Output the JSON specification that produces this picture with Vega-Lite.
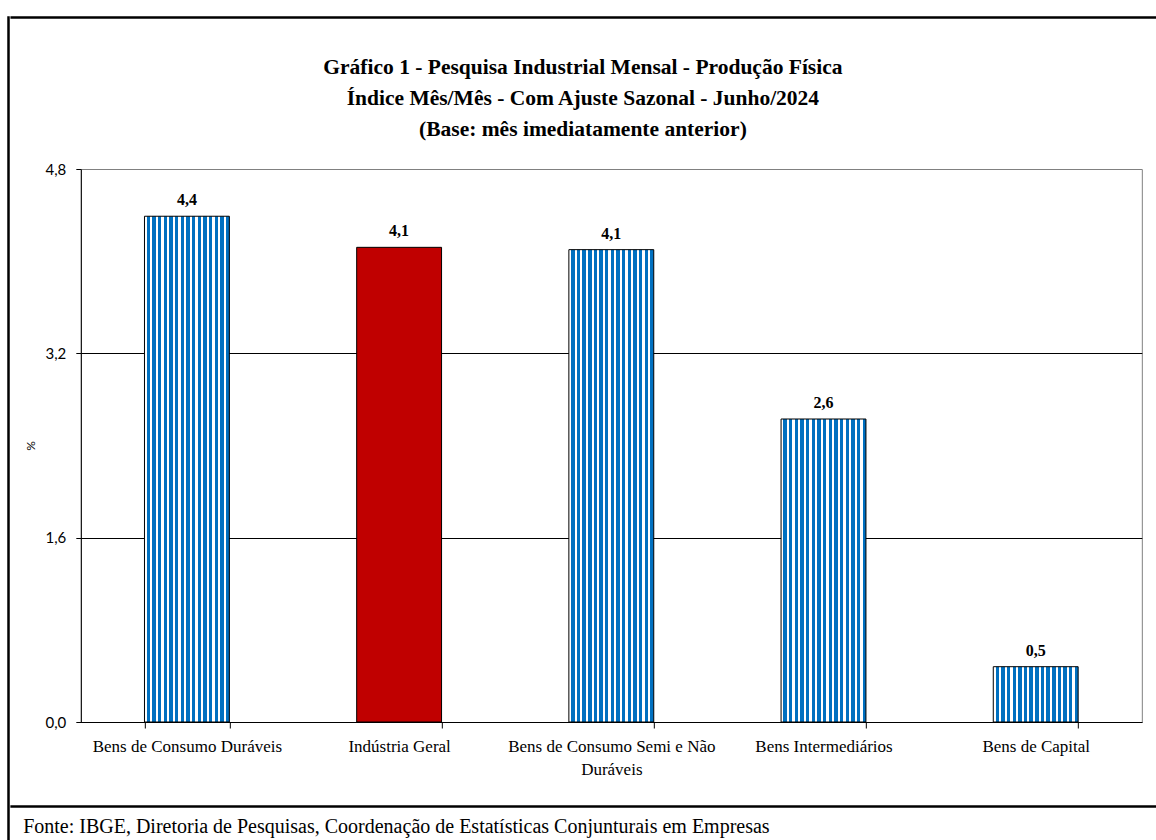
{
  "$schema": "https://vega.github.io/schema/vega-lite/v6.json",
  "background": "white",
  "padding": {"left": 7, "top": 16, "right": 0, "bottom": 0},
  "config": {
    "locale": {"number": {"decimal": ",", "thousands": ".", "grouping": [3], "currency": ["R$", ""]}},
    "view": {"stroke": "#808080", "strokeWidth": 1}
  },
  "datasets": {
    "bars": [
      {"categoria": "Bens de Consumo Duráveis", "valor": 4.39},
      {"categoria": "Indústria Geral", "valor": 4.12},
      {"categoria": "Bens de Consumo Semi e Não Duráveis", "valor": 4.10},
      {"categoria": "Bens Intermediários", "valor": 2.63},
      {"categoria": "Bens de Capital", "valor": 0.48}
    ],
    "fonte": [
      {"texto": "Fonte: IBGE, Diretoria de Pesquisas, Coordenação de Estatísticas Conjunturais em Empresas"}
    ],
    "vazio": []
  },
  "spacing": 0,
  "hconcat": [
    {
      "width": 1,
      "height": 830,
      "view": {"stroke": "black", "strokeWidth": 1.5},
      "data": {"name": "vazio"},
      "mark": "rule",
      "encoding": {}
    },
    {
      "spacing": 27,
      "center": true,
      "vconcat": [
        {
          "spacing": 37,
          "center": true,
          "vconcat": [
            {
              "width": 1200,
              "height": 1,
              "view": {"stroke": "black", "strokeWidth": 1.5},
              "data": {"name": "vazio"},
              "mark": "rule",
              "encoding": {}
            },
            {
              "width": 1061,
              "height": 553,
              "title": {
                "text": ["Gráfico 1 - Pesquisa Industrial Mensal - Produção Física", "Índice Mês/Mês - Com Ajuste Sazonal - Junho/2024", "(Base: mês imediatamente anterior)"],
                "font": "Liberation Serif", "fontSize": 21.5, "fontWeight": "bold", "lineHeight": 31, "color": "black", "anchor": "middle", "frame": "bounds", "offset": 22
              },
              "data": {"name": "bars"},
              "encoding": {
                "x": {
                  "field": "categoria", "type": "nominal", "sort": null,
                  "scale": {"domain": ["Bens de Consumo Duráveis", "Indústria Geral", "Bens de Consumo Semi e Não Duráveis", "Bens Intermediários", "Bens de Capital"], "paddingInner": 0.6, "paddingOuter": 0.3},
                  "axis": {
                    "title": null, "labelAngle": 0, "ticks": true, "tickBand": "extent", "tickSize": 6, "tickColor": "black", "domainColor": "black",
                    "labelFont": "Liberation Serif", "labelFontSize": 17, "labelColor": "black", "labelPadding": 10, "labelLineHeight": 23, "labelBaseline": "top", "labelLimit": 400,
                    "labelExpr": "datum.value == 'Bens de Consumo Semi e Não Duráveis' ? ['Bens de Consumo Semi e Não', 'Duráveis'] : datum.value"
                  }
                },
                "y": {
                  "field": "valor", "type": "quantitative", "title": "%",
                  "scale": {"domain": [0, 4.8], "nice": false},
                  "axis": {
                    "values": [0, 1.6, 3.2, 4.8], "format": ".1f",
                    "domainColor": "black", "tickColor": "black", "tickSize": 5,
                    "gridColor": "black", "gridOpacity": {"condition": {"test": "datum.value >= 4.8", "value": 0}, "value": 1},
                    "labelFont": "Lato", "labelFontSize": 15, "labelColor": "black", "labelPadding": 10,
                    "titleFont": "Lato", "titleFontSize": 12, "titleFontWeight": "normal", "titleColor": "black", "titlePadding": 8
                  }
                }
              },
              "layer": [
                {
                  "transform": [{"filter": "datum.categoria != 'Indústria Geral'"}],
                  "mark": {
                    "type": "bar", "stroke": "black", "strokeWidth": 1,
                    "fill": {
                      "gradient": "linear", "x1": 0, "y1": 0, "x2": 1, "y2": 0,
                      "stops": [
                        {"offset": 0, "color": "white"}, {"offset": 0.0267, "color": "white"}, {"offset": 0.0267, "color": "#0070C0"}, {"offset": 0.0667, "color": "#0070C0"},
                        {"offset": 0.0667, "color": "white"}, {"offset": 0.0933, "color": "white"}, {"offset": 0.0933, "color": "#0070C0"}, {"offset": 0.1333, "color": "#0070C0"},
                        {"offset": 0.1333, "color": "white"}, {"offset": 0.16, "color": "white"}, {"offset": 0.16, "color": "#0070C0"}, {"offset": 0.2, "color": "#0070C0"},
                        {"offset": 0.2, "color": "white"}, {"offset": 0.2267, "color": "white"}, {"offset": 0.2267, "color": "#0070C0"}, {"offset": 0.2667, "color": "#0070C0"},
                        {"offset": 0.2667, "color": "white"}, {"offset": 0.2933, "color": "white"}, {"offset": 0.2933, "color": "#0070C0"}, {"offset": 0.3333, "color": "#0070C0"},
                        {"offset": 0.3333, "color": "white"}, {"offset": 0.36, "color": "white"}, {"offset": 0.36, "color": "#0070C0"}, {"offset": 0.4, "color": "#0070C0"},
                        {"offset": 0.4, "color": "white"}, {"offset": 0.4267, "color": "white"}, {"offset": 0.4267, "color": "#0070C0"}, {"offset": 0.4667, "color": "#0070C0"},
                        {"offset": 0.4667, "color": "white"}, {"offset": 0.4933, "color": "white"}, {"offset": 0.4933, "color": "#0070C0"}, {"offset": 0.5333, "color": "#0070C0"},
                        {"offset": 0.5333, "color": "white"}, {"offset": 0.56, "color": "white"}, {"offset": 0.56, "color": "#0070C0"}, {"offset": 0.6, "color": "#0070C0"},
                        {"offset": 0.6, "color": "white"}, {"offset": 0.6267, "color": "white"}, {"offset": 0.6267, "color": "#0070C0"}, {"offset": 0.6667, "color": "#0070C0"},
                        {"offset": 0.6667, "color": "white"}, {"offset": 0.6933, "color": "white"}, {"offset": 0.6933, "color": "#0070C0"}, {"offset": 0.7333, "color": "#0070C0"},
                        {"offset": 0.7333, "color": "white"}, {"offset": 0.76, "color": "white"}, {"offset": 0.76, "color": "#0070C0"}, {"offset": 0.8, "color": "#0070C0"},
                        {"offset": 0.8, "color": "white"}, {"offset": 0.8267, "color": "white"}, {"offset": 0.8267, "color": "#0070C0"}, {"offset": 0.8667, "color": "#0070C0"},
                        {"offset": 0.8667, "color": "white"}, {"offset": 0.8933, "color": "white"}, {"offset": 0.8933, "color": "#0070C0"}, {"offset": 0.9333, "color": "#0070C0"},
                        {"offset": 0.9333, "color": "white"}, {"offset": 0.96, "color": "white"}, {"offset": 0.96, "color": "#0070C0"}, {"offset": 1, "color": "#0070C0"}
                      ]
                    }
                  }
                },
                {
                  "transform": [{"filter": "datum.categoria == 'Indústria Geral'"}],
                  "mark": {"type": "bar", "fill": "#C00000", "stroke": "black", "strokeWidth": 1}
                },
                {
                  "mark": {"type": "text", "baseline": "bottom", "dy": -8, "font": "Liberation Serif", "fontSize": 16, "fontWeight": "bold", "color": "black"},
                  "encoding": {"text": {"field": "valor", "type": "quantitative", "format": ".1f"}}
                }
              ]
            }
          ]
        },
        {
          "spacing": 0,
          "vconcat": [
            {
              "width": 1200,
              "height": 1,
              "view": {"stroke": "black", "strokeWidth": 1.5},
              "data": {"name": "vazio"},
              "mark": "rule",
              "encoding": {}
            },
            {
              "width": 1200,
              "height": 30,
              "view": {"stroke": null},
              "data": {"name": "fonte"},
              "mark": {"type": "text", "align": "left", "baseline": "middle", "font": "Liberation Serif", "fontSize": 20, "dx": 12, "dy": 4, "color": "black"},
              "encoding": {
                "text": {"field": "texto", "type": "nominal"},
                "x": {"datum": 0, "type": "quantitative", "scale": {"domain": [0, 1]}, "axis": null}
              }
            }
          ]
        }
      ]
    }
  ]
}
